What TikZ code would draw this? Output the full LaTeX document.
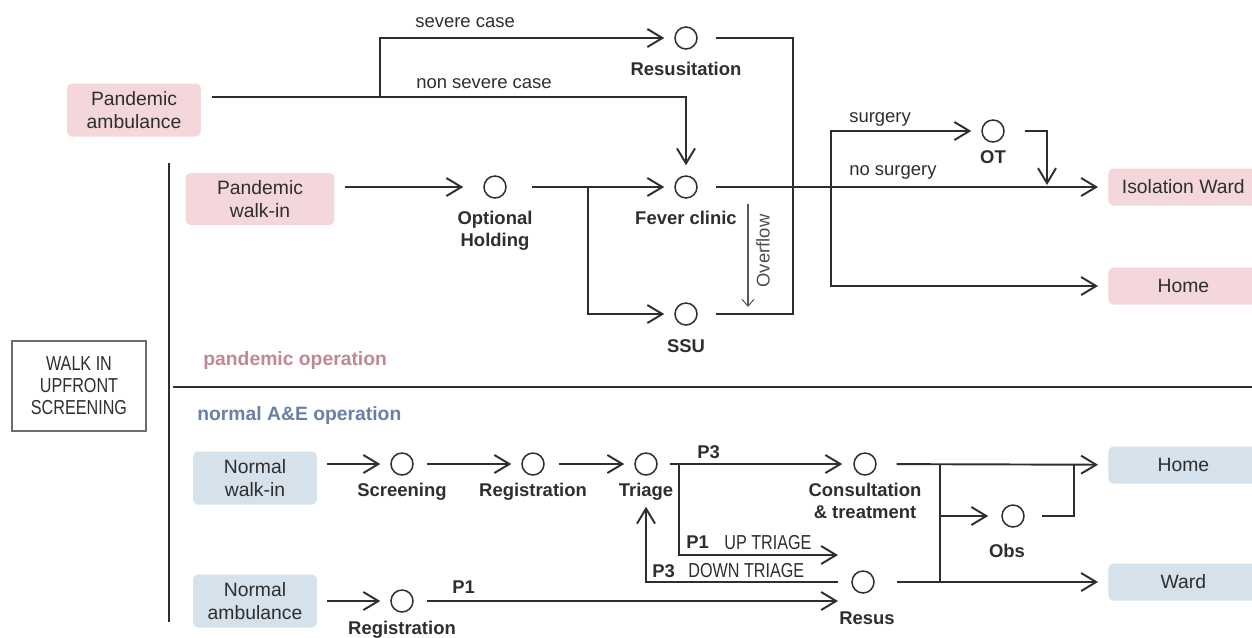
\documentclass[tikz,border=0pt]{standalone}
\usepackage{fontspec}
\setmainfont{Liberation Sans}
\newfontfamily\narrowfont[FakeStretch=0.8]{Liberation Sans}
\usetikzlibrary{arrows.meta,positioning}

\definecolor{ink}{HTML}{2E2E2E}
\definecolor{pandemicfill}{HTML}{F3D7DA}
\definecolor{normalfill}{HTML}{D5E1EB}
\definecolor{pandemictext}{HTML}{C08890}
\definecolor{normaltext}{HTML}{6A7FA8}

\begin{document}
\begin{tikzpicture}[
    x=0.02cm, y=-0.02cm,
    font=\fontsize{10.5}{12.5}\selectfont,
    text=ink,
    src/.style={rounded corners=0.1cm, align=center, inner sep=0pt, font=\fontsize{11}{13}\selectfont},
    pinkbox/.style={src, fill=pandemicfill},
    bluebox/.style={src, fill=normalfill},
    stop/.style={circle, draw=ink, line width=0.85pt, minimum size=0.44cm, inner sep=0pt},
    stoplbl/.style={font=\fontsize{10.5}{12.5}\selectfont\bfseries, align=center, inner sep=0pt, anchor=north},
    tag/.style={inner sep=0pt, anchor=west},
    bold/.style={tag, font=\fontsize{10.5}{12.5}\selectfont\bfseries},
    caps/.style={tag, font=\narrowfont\fontsize{11.5}{12.5}\selectfont},
    section/.style={tag, font=\fontsize{11}{13}\selectfont\bfseries},
    arr/.style={-{Straight Barb[length=3mm, width=3.6mm, line width=1.1pt]}, line width=1.1pt, draw=ink, shorten >=0.2cm},
    link/.style={line width=1.1pt, draw=ink},
    rule/.style={line width=1.2pt, draw=ink}
]
\useasboundingbox (0,0) rectangle (1252,637);

% left side: screening box and dividers
\node[draw=ink!70, line width=0.6pt, minimum width=2.68cm, minimum height=1.8cm, align=center,
      font=\narrowfont\fontsize{11.5}{12.5}\selectfont] (screenbox) at (79,386) {WALK IN\\UPFRONT\\SCREENING};
\coordinate (divtop) at (169,163);
\coordinate (divbot) at (169,622);
\draw[rule] (divtop) -- (divbot);
\coordinate (sepl) at (173,387);
\coordinate (sepr) at (1252,387);
\draw[rule] (sepl) -- (sepr);
\node[section, text=pandemictext] (pandemiclbl) at (203,360) {pandemic operation};
\node[section, text=normaltext] (normallbl) at (197,415) {normal A\&E operation};

% pandemic operation
\node[pinkbox, minimum width=2.68cm, minimum height=1.06cm] (pamb) at (134,110) {Pandemic\\ambulance};
\node[pinkbox, minimum width=2.98cm, minimum height=1.04cm] (pwalk) at (260,199) {Pandemic\\walk-in};
\node[pinkbox, minimum width=3cm, minimum height=0.74cm, anchor=west] (isoward) at (1108,187) {Isolation Ward};
\node[pinkbox, minimum width=3cm, minimum height=0.74cm, anchor=west] (phome) at (1108,286) {Home};

\node[stop] (resus) at (686,38) {};
\node[stop] (fever) at (686,187) {};
\node[stop] (ssu) at (686,314) {};
\node[stop] (holding) at (495,187) {};
\node[stop] (ot) at (993,131) {};

\node[stoplbl] (resuslbl) at (686,62) {Resusitation};
\node[stoplbl] (feverlbl) at (686,211) {Fever clinic};
\node[stoplbl] (ssulbl) at (686,339) {SSU};
\node[stoplbl] (holdinglbl) at (495,211) {Optional\\Holding};
\node[stoplbl] (otlbl) at (993,150) {OT};

\coordinate (split) at (380,97);
\coordinate (hsplit) at (588,187);
\coordinate (rail) at (793,175);
\coordinate (osplit) at (831,187);
\coordinate (otjoin) at (1047,187);

\draw[arr, shorten <=0.22cm] (pamb.east |- split) -- (split) |- (resus);
\draw[arr] (split) -| (fever);
\draw[link, shorten <=0.36cm, shorten >=0.36cm] (resus) -- (resus -| rail) -- (ssu -| rail) -- (ssu);
\draw[arr, shorten <=0.2cm, shorten >=0.4cm] (pwalk.east |- holding) -- (holding);
\draw[arr, shorten <=0.5cm] (holding) -- (fever);
\draw[arr] (hsplit) |- (ssu);
\draw[arr, shorten <=0.36cm] (fever) -- (isoward);
\draw[arr] (osplit) |- (ot);
\draw[arr] (osplit) |- (phome);
\draw[arr, shorten <=0.4cm, shorten >=0.04cm] (ot) -| (otjoin);

% overflow from fever clinic to SSU
\coordinate (overtop) at (748,204);
\coordinate (overbot) at (748,307);
\draw[-{Straight Barb[length=1.4mm, width=2.4mm]}, line width=0.6pt, draw=ink!80] (overtop) -- (overbot);
\node[inner sep=0pt, rotate=90, text=ink!85] (overlbl) at (763,251) {Overflow};

\node[tag] (severelbl) at (415,23) {severe case};
\node[tag] (nonsevlbl) at (416,84) {non severe case};
\node[tag] (surgerylbl) at (849,119) {surgery};
\node[tag] (nosurglbl) at (849,172) {no surgery};

% normal A&E operation
\node[bluebox, minimum width=2.48cm, minimum height=1.06cm] (nwalk) at (255,478) {Normal\\walk-in};
\node[bluebox, minimum width=2.48cm, minimum height=1.06cm] (namb) at (255,601) {Normal\\ambulance};
\node[bluebox, minimum width=3cm, minimum height=0.74cm, anchor=west] (nhome) at (1108,465) {Home};
\node[bluebox, minimum width=3cm, minimum height=0.74cm, anchor=west] (ward) at (1108,582) {Ward};

\node[stop] (screen) at (402,464) {};
\node[stop] (reg) at (533,464) {};
\node[stop] (triage) at (646,464) {};
\node[stop] (consult) at (865,464) {};
\node[stop] (obs) at (1013,516) {};
\node[stop] (resus2) at (863,582) {};
\node[stop] (reg2) at (402,601) {};

\node[stoplbl] (screenlbl) at (402,483) {Screening};
\node[stoplbl] (reglbl) at (533,483) {Registration};
\node[stoplbl] (triagelbl) at (646,483) {Triage};
\node[stoplbl] (consultlbl) at (865,483) {Consultation\\\& treatment};
\node[stoplbl] (obslbl) at (1007,544) {Obs};
\node[stoplbl] (resus2lbl) at (867,611) {Resus};
\node[stoplbl] (reg2lbl) at (402,621) {Registration};

\coordinate (tsplit) at (679,464);
\coordinate (upend) at (838,555);
\coordinate (p1end) at (838,601);
\coordinate (csplit) at (940,464);
\coordinate (rsplit) at (940,582);
\coordinate (hjoin) at (1074,464);

\draw[arr, shorten <=0.2cm] (nwalk.east |- screen) -- (screen);
\draw[arr, shorten <=0.26cm] (screen) -- (reg);
\draw[arr, shorten <=0.28cm] (reg) -- (triage);
\draw[arr, shorten <=0.24cm, shorten >=0.22cm] (triage) -- (consult);
\draw[arr, shorten >=0cm] (tsplit) |- (upend);
\draw[arr, shorten <=0.26cm, shorten >=0.62cm] (resus2) -| (triage);
\draw[arr, shorten <=0.2cm] (namb.east |- reg2) -- (reg2);
\draw[arr, shorten <=0.26cm, shorten >=0cm] (reg2) -- (p1end);
\draw[arr, shorten <=0.4cm] (consult) -- (nhome);
\draw[link] (csplit) -- (rsplit);
\draw[arr, shorten >=0.26cm] (csplit |- obs) -- (obs);
\draw[arr, shorten <=0.44cm] (resus2) -- (ward);
\draw[link, shorten <=0.34cm] (obs) -| (hjoin);

\node[bold] (p3lbl) at (697,452) {P3};
\node[bold] (p1uplbl) at (686,542) {P1};
\node[caps] (uplbl) at (724,543) {UP TRIAGE};
\node[bold] (p3downlbl) at (652,571) {P3};
\node[caps] (downlbl) at (688,571) {DOWN TRIAGE};
\node[bold] (p1lbl) at (452,587) {P1};
\end{tikzpicture}
\end{document}
